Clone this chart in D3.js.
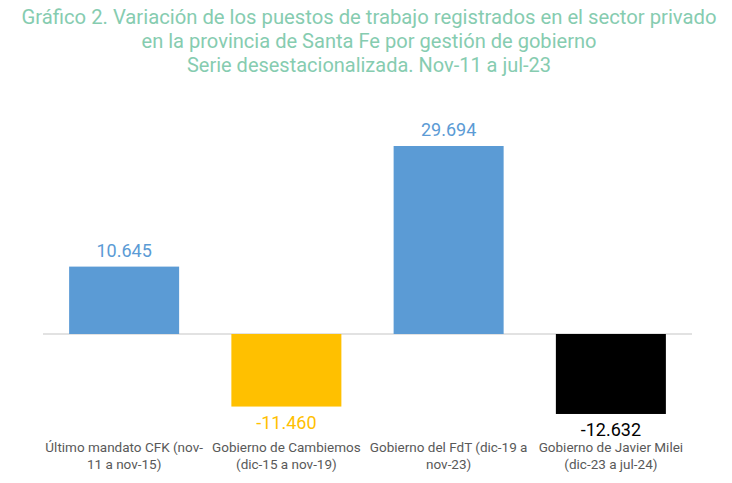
<!DOCTYPE html>
<html><head><meta charset="utf-8">
<script src="https://cdn.jsdelivr.net/npm/d3@7"></script>
<style>body{margin:0;background:#fff}svg{display:block;font-family:Roboto,sans-serif}</style>
</head><body>
<svg id="c" width="732" height="483"></svg>
<script>
const titleLines = [
  "Gráfico 2. Variación de los puestos de trabajo registrados en el sector privado",
  "en la provincia de Santa Fe por gestión de gobierno",
  "Serie desestacionalizada. Nov-11 a jul-23"
];
const categories = ["CFK", "Cambiemos", "FdT", "Milei"];
const categoryLabels = [
  ["Último mandato CFK (nov-", "11 a nov-15)"],
  ["Gobierno de Cambiemos", "(dic-15 a nov-19)"],
  ["Gobierno del FdT (dic-19 a", "nov-23)"],
  ["Gobierno de Javier Milei", "(dic-23 a jul-24)"]
];
const values = [10645, -11460, 29694, -12632];
const valueLabels = ["10.645", "-11.460", "29.694", "-12.632"];
const barColors = ["#5b9bd5", "#ffc000", "#5b9bd5", "#000000"];
const labelColors = ["#5b9bd5", "#ffc000", "#5b9bd5", "#000000"];

const svg = d3.select("#c");
const W = 732;

// title
const titleWidths = [695, 455, 364];
const titleY = [24, 48, 72];
svg.selectAll("text.title").data(titleLines).join("text")
  .attr("class","title")
  .attr("x", W/2 + 3).attr("y", (d,i)=>titleY[i])
  .attr("text-anchor","middle")
  .attr("font-size", 20)
  .attr("fill","#86ccb0")
  .attr("textLength",(d,i)=>titleWidths[i])
  .attr("lengthAdjust","spacingAndGlyphs")
  .text(d=>d);

const x = d3.scaleBand().domain(categories).range([43, 692]).paddingInner(0.322).paddingOuter(0.161);
const y = d3.scaleLinear().domain([-15000, 35000]).range([334 + 15000*188/29694, 334 - 35000*188/29694]);

// zero line
svg.append("line").attr("x1",43).attr("x2",692).attr("y1",y(0)).attr("y2",y(0))
  .attr("stroke","#d9d9d9").attr("stroke-width",1.5);

svg.selectAll("rect.bar").data(values).join("rect")
  .attr("class","bar")
  .attr("x",(d,i)=>x(categories[i]))
  .attr("width", x.bandwidth())
  .attr("y", d=>y(Math.max(0,d)))
  .attr("height", d=>Math.abs(y(d)-y(0)))
  .attr("fill",(d,i)=>barColors[i]);

svg.selectAll("text.val").data(values).join("text")
  .attr("class","val")
  .attr("x",(d,i)=>x(categories[i])+x.bandwidth()/2)
  .attr("y", d=> d>=0 ? y(d)-10 : y(d)+22)
  .attr("text-anchor","middle")
  .attr("font-size",18)
  .attr("fill",(d,i)=>labelColors[i])
  .text((d,i)=>valueLabels[i]);

const cat = svg.selectAll("g.cat").data(categoryLabels).join("g")
  .attr("class","cat")
  .attr("transform",(d,i)=>`translate(${x(categories[i])+x.bandwidth()/2},0)`);
cat.selectAll("text").data(d=>d).join("text")
  .attr("x",0).attr("y",(d,j)=>452 + j*17)
  .attr("text-anchor","middle")
  .attr("font-size",13.5)
  .attr("fill","#595959")
  .text(d=>d);
</script>
</body></html>
